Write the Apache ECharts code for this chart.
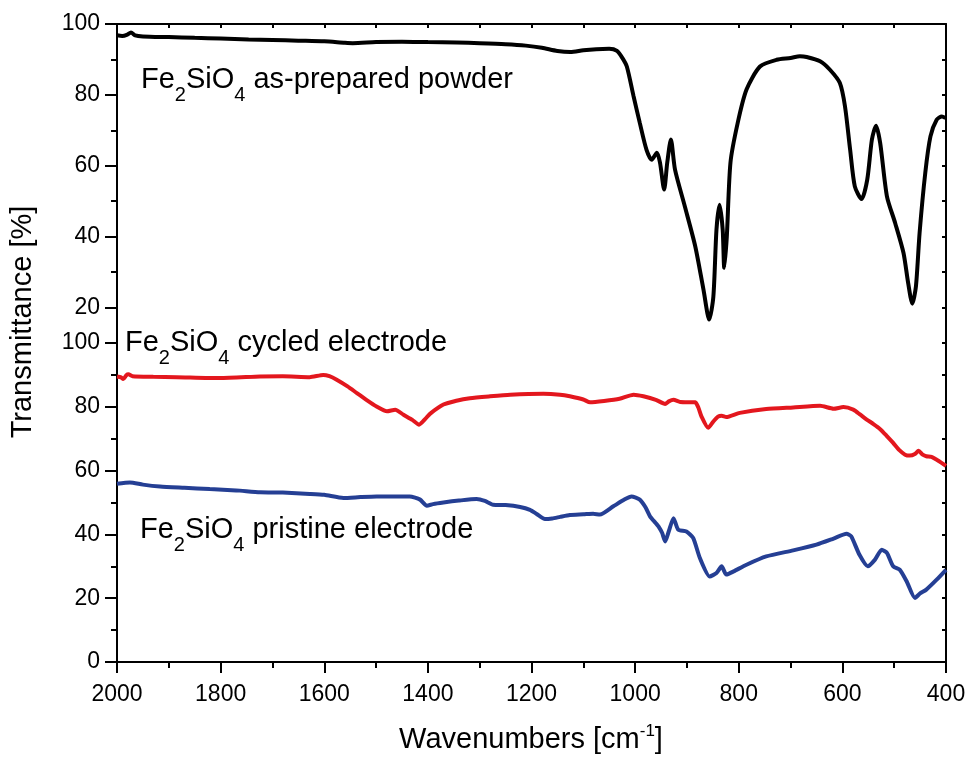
<!DOCTYPE html>
<html>
<head>
<meta charset="utf-8">
<title>FTIR spectra of Fe2SiO4</title>
<script src="https://cdn.jsdelivr.net/npm/echarts@6/dist/echarts.min.js"></script>
<style>
  html, body { margin: 0; padding: 0; background: #fff; }
  #chart { width: 969px; height: 759px; }
</style>
</head>
<body>
<div id="chart"></div>
<script>
// Fe2SiO4 as-prepared powder (upper panel)
const powderWavenumber = [2000, 1990, 1980, 1973, 1965, 1950, 1900, 1850, 1800, 1746, 1700, 1650, 1600, 1560, 1545, 1500, 1450, 1400, 1344, 1300, 1250, 1211, 1180, 1150, 1125, 1100, 1075, 1050, 1035, 1025, 1016, 1003, 991, 978, 968, 958, 952, 944, 938, 931, 923, 904, 884, 868, 857, 849, 843, 837, 831, 828, 823, 816, 802, 785, 759, 727, 700, 682, 669, 643, 624, 605, 595, 585, 576, 563, 552, 543, 535, 527, 514, 498, 482, 473, 465, 458, 451, 440, 430, 418, 408, 401];
const powderTransmittance = [96.8, 96.6, 97.0, 97.6, 96.8, 96.5, 96.3, 96.1, 95.9, 95.6, 95.5, 95.3, 95.1, 94.7, 94.6, 94.9, 95.0, 94.9, 94.8, 94.6, 94.3, 93.9, 93.3, 92.4, 92.1, 92.6, 92.9, 93.0, 92.4, 90.5, 88.0, 79.6, 72.1, 64.5, 61.7, 63.7, 60.9, 53.3, 60.9, 67.4, 58.9, 48.5, 37.3, 25.0, 16.6, 23.1, 42.0, 49.0, 42.0, 31.2, 40.1, 60.9, 72.1, 81.5, 88.0, 89.9, 90.4, 90.9, 90.7, 89.5, 87.1, 83.4, 76.8, 64.5, 54.2, 50.6, 56.1, 67.4, 71.3, 66.4, 51.4, 43.8, 35.4, 26.9, 21.1, 26.0, 41.0, 58.0, 68.3, 73.0, 73.9, 73.5];

// Fe2SiO4 cycled electrode (lower panel)
const cycledWavenumber = [2000, 1992, 1988, 1982, 1978, 1970, 1930, 1885, 1801, 1724, 1680, 1628, 1602, 1590, 1576, 1555, 1537, 1518, 1499, 1479, 1463, 1447, 1430, 1417, 1405, 1396, 1370, 1345, 1319, 1280, 1241, 1177, 1145, 1126, 1100, 1087, 1060, 1030, 1003, 984, 960, 942, 935, 926, 913, 884, 878, 872, 859, 849, 840, 833, 824, 798, 747, 695, 643, 617, 598, 579, 566, 553, 540, 527, 515, 502, 490, 479, 470, 460, 453, 445, 438, 428, 418, 410, 400];
const cycledTransmittance = [89.5, 89.2, 88.7, 89.9, 90.2, 89.6, 89.4, 89.3, 89.0, 89.5, 89.6, 89.3, 90.0, 89.6, 88.5, 86.4, 84.3, 82.1, 80.1, 78.6, 79.1, 77.5, 75.9, 74.4, 76.2, 77.8, 80.7, 81.9, 82.7, 83.3, 83.8, 84.1, 83.8, 83.3, 82.3, 81.4, 81.8, 82.5, 83.8, 83.3, 82.2, 80.9, 81.7, 82.2, 81.5, 81.4, 79.8, 77.0, 73.4, 75.4, 76.9, 77.2, 76.8, 78.1, 79.3, 79.8, 80.3, 79.4, 79.9, 79.1, 77.6, 76.0, 74.6, 73.0, 71.0, 68.7, 66.4, 65.0, 64.7, 65.2, 66.2, 65.0, 64.5, 64.3, 63.4, 62.6, 61.5];

// Fe2SiO4 pristine electrode (lower panel)
const pristineWavenumber = [2000, 1975, 1950, 1917, 1870, 1821, 1770, 1724, 1680, 1628, 1600, 1563, 1530, 1499, 1470, 1435, 1415, 1402, 1390, 1370, 1340, 1306, 1290, 1274, 1250, 1222, 1203, 1190, 1174, 1160, 1145, 1126, 1100, 1081, 1068, 1042, 1020, 1007, 991, 980, 971, 960, 955, 948, 942, 935, 926, 917, 901, 888, 875, 856, 843, 833, 824, 810, 785, 747, 695, 650, 617, 592, 583, 567, 551, 537, 524, 514, 502, 489, 476, 460, 450, 438, 418, 400];
const pristineTransmittance = [55.9, 56.3, 55.6, 55.0, 54.6, 54.2, 53.8, 53.2, 53.1, 52.7, 52.4, 51.4, 51.7, 51.9, 51.9, 51.9, 50.9, 49.0, 49.5, 50.0, 50.6, 51.1, 50.5, 49.3, 49.2, 48.6, 47.7, 46.4, 44.8, 45.0, 45.5, 46.1, 46.3, 46.5, 46.2, 48.8, 51.0, 51.9, 50.9, 48.5, 45.6, 43.5, 42.5, 40.5, 37.8, 41.0, 45.1, 41.5, 40.9, 38.9, 32.6, 26.8, 27.9, 30.0, 27.4, 28.4, 30.5, 33.1, 35.0, 36.8, 38.7, 40.2, 39.4, 33.6, 30.0, 32.1, 35.2, 34.2, 30.0, 28.9, 25.3, 20.1, 21.5, 22.7, 25.8, 28.9];

// axis tick values
const upperLabelTicks = [20, 40, 60, 80, 100];
const upperMinorTicks = [30, 50, 70, 90];

const FONT = 'Liberation Sans, Arial, sans-serif';
const pairs = (xs, ys) => xs.map((x, i) => [x, ys[i]]);

const chart = echarts.init(document.getElementById('chart'), null, { renderer: 'canvas' });

const GRID_LEFT = 117, GRID_RIGHT = 23, TOP_Y = 24, PANEL_H = 319;
const line = { color: '#000', width: 2 };
const tickFont = { fontSize: 23, fontFamily: FONT, color: '#000' };

// Chemical-formula labels: main text with subscripts set below the baseline.
const MAIN_SIZE = 29, SUB_SIZE = 20, SUB_DROP = 15;
const measureCtx = document.createElement('canvas').getContext('2d');
const textWidth = (str, size) => {
  measureCtx.font = size + 'px ' + FONT;
  return measureCtx.measureText(str).width;
};
const formulaLabel = (x, y, rest) => {
  const parts = [['Fe', false], ['2', true], ['SiO', false], ['4', true], [' ' + rest, false]];
  let cx = 0;
  const children = parts.map(([str, sub]) => {
    const size = sub ? SUB_SIZE : MAIN_SIZE;
    const el = {
      type: 'text', x: cx, y: sub ? SUB_DROP : 0,
      style: { text: str, fontSize: size, fontFamily: FONT, fill: '#000',
        align: 'left', verticalAlign: 'middle' }
    };
    cx += textWidth(str, size);
    return el;
  });
  return { type: 'group', x: x, y: y, children: children };
};

const option = {
  animation: false,
  backgroundColor: '#fff',
  grid: [
    { left: GRID_LEFT, right: GRID_RIGHT, top: TOP_Y, height: PANEL_H },
    { left: GRID_LEFT, right: GRID_RIGHT, top: TOP_Y + PANEL_H, height: PANEL_H }
  ],
  xAxis: [
    {
      gridIndex: 0, type: 'value', min: 400, max: 2000, interval: 100, inverse: true,
      position: 'top',
      axisLine: { show: true, lineStyle: line },
      axisTick: { show: true, inside: true, length: 4, lineStyle: line },
      axisLabel: { show: false },
      splitLine: { show: false }
    },
    {
      gridIndex: 1, type: 'value', min: 400, max: 2000, interval: 200, inverse: true,
      position: 'bottom',
      axisLine: { show: true, lineStyle: line },
      axisTick: { show: true, inside: false, length: 11, lineStyle: line },
      minorTick: { show: true, splitNumber: 2, length: 6, lineStyle: line },
      axisLabel: Object.assign({ show: true, margin: 21, formatter: v => String(v) }, tickFont),
      splitLine: { show: false }
    }
  ],
  yAxis: [
    {
      gridIndex: 0, type: 'value', min: 10, max: 100, interval: 10, position: 'left',
      axisLine: { show: true, lineStyle: line },
      axisTick: { show: true, length: 12, lineStyle: line, customValues: upperLabelTicks },
      axisLabel: Object.assign({ show: true, margin: 17, customValues: upperLabelTicks,
        formatter: v => (v % 20 === 0 ? String(v) : '') }, tickFont),
      splitLine: { show: false }
    },
    {
      gridIndex: 0, type: 'value', min: 10, max: 100, interval: 10, position: 'left',
      axisLine: { show: false },
      axisTick: { show: true, length: 6, lineStyle: line, customValues: upperMinorTicks },
      axisLabel: { show: false },
      splitLine: { show: false }
    },
    {
      gridIndex: 0, type: 'value', min: 10, max: 100, interval: 10, position: 'right',
      axisLine: { show: true, lineStyle: line },
      axisTick: { show: true, inside: true, length: 4, lineStyle: line },
      axisLabel: { show: false },
      splitLine: { show: false }
    },
    {
      gridIndex: 1, type: 'value', min: 0, max: 100, interval: 20, position: 'left',
      axisLine: { show: true, lineStyle: line },
      axisTick: { show: true, length: 12, lineStyle: line },
      minorTick: { show: true, splitNumber: 2, length: 6, lineStyle: line },
      axisLabel: Object.assign({ show: true, margin: 17 }, tickFont),
      splitLine: { show: false }
    },
    {
      gridIndex: 1, type: 'value', min: 0, max: 100, interval: 10, position: 'right',
      axisLine: { show: true, lineStyle: line },
      axisTick: { show: true, inside: true, length: 4, lineStyle: line },
      axisLabel: { show: false },
      splitLine: { show: false }
    }
  ],
  series: [
    {
      name: 'as-prepared powder', type: 'line', xAxisIndex: 0, yAxisIndex: 0,
      data: pairs(powderWavenumber, powderTransmittance),
      showSymbol: false, smooth: 0.25,
      lineStyle: { color: '#000', width: 4 }
    },
    {
      name: 'cycled electrode', type: 'line', xAxisIndex: 1, yAxisIndex: 3,
      data: pairs(cycledWavenumber, cycledTransmittance),
      showSymbol: false, smooth: 0.2,
      lineStyle: { color: '#e3171e', width: 4 }
    },
    {
      name: 'pristine electrode', type: 'line', xAxisIndex: 1, yAxisIndex: 3,
      data: pairs(pristineWavenumber, pristineTransmittance),
      showSymbol: false, smooth: 0.2,
      lineStyle: { color: '#253f94', width: 4 }
    }
  ],
  graphic: [
    formulaLabel(141, 80, 'as-prepared powder'),
    formulaLabel(125, 343, 'cycled electrode'),
    formulaLabel(140, 530, 'pristine electrode'),
    {
      type: 'text', x: 531, y: 740,
      style: {
        text: '{n|Wavenumbers [cm}{p|-1}{n|]}',
        align: 'center', verticalAlign: 'middle',
        rich: {
          n: { fontSize: 29, lineHeight: 34, fontFamily: FONT, color: '#000' },
          p: { fontSize: 17, lineHeight: 17, verticalAlign: 'top', fontFamily: FONT, color: '#000' }
        }
      }
    },
    {
      type: 'text', x: 23, y: 322, rotation: Math.PI / 2,
      style: {
        text: 'Transmittance [%]', fontSize: 29, fontFamily: FONT, fill: '#000',
        align: 'center', verticalAlign: 'middle'
      }
    }
  ]
};

chart.setOption(option);
</script>
</body>
</html>
